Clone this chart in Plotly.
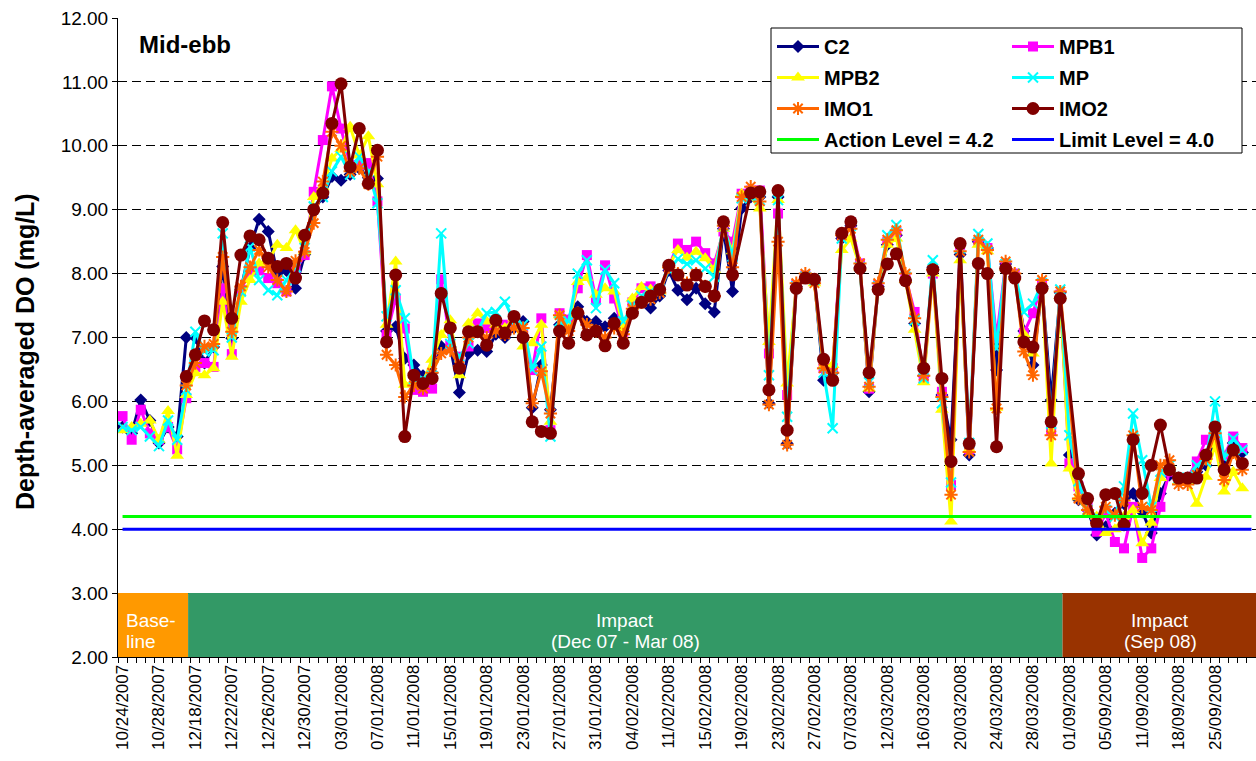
import plotly.graph_objects as go

FONT = "Arial, Liberation Sans, sans-serif"

dates = [
    "10/24/2007", "10/25/2007", "10/26/2007", "10/27/2007", "10/28/2007", "10/29/2007", "10/30/2007", "10/31/2007",
    "12/18/2007", "12/19/2007", "12/20/2007", "12/21/2007", "12/22/2007", "12/23/2007", "12/24/2007", "12/25/2007",
    "12/26/2007", "12/27/2007", "12/28/2007", "12/29/2007", "12/30/2007", "12/31/2007", "01/01/2008", "02/01/2008",
    "03/01/2008", "04/01/2008", "05/01/2008", "06/01/2008", "07/01/2008", "08/01/2008", "09/01/2008", "10/01/2008",
    "11/01/2008", "12/01/2008", "13/01/2008", "14/01/2008", "15/01/2008", "16/01/2008", "17/01/2008", "18/01/2008",
    "19/01/2008", "20/01/2008", "21/01/2008", "22/01/2008", "23/01/2008", "24/01/2008", "25/01/2008", "26/01/2008",
    "27/01/2008", "28/01/2008", "29/01/2008", "30/01/2008", "31/01/2008", "01/02/2008", "02/02/2008", "03/02/2008",
    "04/02/2008", "05/02/2008", "06/02/2008", "10/02/2008", "11/02/2008", "12/02/2008", "13/02/2008", "14/02/2008",
    "15/02/2008", "16/02/2008", "17/02/2008", "18/02/2008", "19/02/2008", "20/02/2008", "21/02/2008", "22/02/2008",
    "23/02/2008", "24/02/2008", "25/02/2008", "26/02/2008", "27/02/2008", "28/02/2008", "29/02/2008", "04/03/2008",
    "07/03/2008", "08/03/2008", "10/03/2008", "11/03/2008", "12/03/2008", "13/03/2008", "14/03/2008", "15/03/2008",
    "16/03/2008", "17/03/2008", "18/03/2008", "19/03/2008", "20/03/2008", "21/03/2008", "22/03/2008", "23/03/2008",
    "24/03/2008", "25/03/2008", "26/03/2008", "27/03/2008", "28/03/2008", "29/03/2008", "30/03/2008", "31/03/2008",
    "01/09/2008", "02/09/2008", "03/09/2008", "04/09/2008", "05/09/2008", "08/09/2008", "09/09/2008", "10/09/2008",
    "11/09/2008", "12/09/2008", "15/09/2008", "16/09/2008", "18/09/2008", "19/09/2008", "22/09/2008", "24/09/2008",
    "25/09/2008", "26/09/2008", "27/09/2008", "29/09/2008", "30/09/2008",
]

# Dates that carry a visible tick label on the category axis
labelled_dates = [
    "10/24/2007", "10/28/2007", "12/18/2007", "12/22/2007", "12/26/2007", "12/30/2007", "03/01/2008",
    "07/01/2008", "11/01/2008", "15/01/2008", "19/01/2008", "23/01/2008", "27/01/2008", "31/01/2008",
    "04/02/2008", "11/02/2008", "15/02/2008", "19/02/2008", "23/02/2008", "27/02/2008", "07/03/2008",
    "12/03/2008", "16/03/2008", "20/03/2008", "24/03/2008", "28/03/2008", "01/09/2008", "05/09/2008",
    "11/09/2008", "18/09/2008", "25/09/2008",
]

N = None

c2 = [
    5.60, 5.50, 6.02, 5.70, 5.35, 5.60, 5.45, 7.00, 7.00, 6.60,
    6.85, 8.11, 6.99, 7.75, 8.40, 8.85, 8.66, 8.00, 8.05, 7.77,
    8.30, 9.00, 9.20, 9.52, 9.46, 9.55, 9.65, 9.50, 9.49, 7.10,
    7.17, 6.67, 6.57, 6.40, 6.45, 6.86, 6.85, 6.14, 6.75, 6.80,
    6.78, 7.05, 7.00, 7.15, 7.25, 5.90, 6.57, 5.87, 7.20, 7.15,
    7.48, 7.25, 7.25, 7.17, 7.30, 7.10, 7.40, 7.55, 7.46, 7.65,
    8.05, 7.74, 7.59, 7.77, 7.53, 7.40, 8.70, 7.72, 9.02, 9.20,
    9.20, 5.97, 9.20, 5.34, 7.80, 7.95, 7.90, 6.33, 6.45, 8.55,
    8.75, 8.10, 6.15, 7.80, 8.45, 8.60, 7.90, 7.22, 6.40, 8.10,
    6.10, 5.40, 8.30, 5.16, 8.50, 8.40, 6.49, 8.15, 7.95, 7.10,
    6.57, 7.80, 6.02, 7.70, 5.16, 4.46, 4.30, 3.91, 4.04, 4.25,
    4.40, 4.56, 4.27, 3.94, 4.56, 4.85, 4.80, 4.80, 4.90, 5.00,
    5.35, 5.10, 5.35, 5.20, N,
]

mpb1 = [
    5.77, 5.40, 5.87, 5.50, 5.40, 5.60, 5.25, 6.05, 6.54, 6.60,
    6.54, 7.77, 6.74, 7.74, 8.05, 8.05, 7.93, 7.85, 7.72, 8.05,
    8.29, 9.28, 10.09, 10.93, 10.27, 9.70, 9.70, 9.73, 9.13, 7.04,
    7.61, 7.14, 6.18, 6.15, 6.20, 7.91, 6.88, 6.70, 6.86, 7.22,
    7.15, 7.17, 7.20, 7.20, 7.05, 6.49, 7.30, 5.55, 7.38, 7.28,
    7.77, 8.29, 7.59, 8.13, 7.61, 7.09, 7.55, 7.77, 7.80, 7.75,
    8.10, 8.47, 8.37, 8.50, 8.32, 8.16, 8.66, 8.50, 9.25, 9.30,
    9.30, 6.75, 8.94, 6.10, 7.82, 7.97, 7.90, 6.52, 6.52, 8.60,
    8.80, 8.16, 6.20, 7.82, 8.50, 8.65, 7.95, 7.40, 6.36, 8.00,
    6.15, 4.69, 8.45, 5.25, 8.50, 8.40, 6.99, 8.15, 8.00, 7.07,
    7.38, 7.85, 5.55, 7.67, 5.03, 4.67, 4.35, 3.96, 4.25, 3.80,
    3.70, 4.35, 3.55, 3.70, 4.35, 4.90, 4.80, 4.80, 5.06, 5.40,
    5.45, 5.15, 5.45, 5.27, N,
]

mpb2 = [
    5.55, 5.60, 5.65, 5.70, 5.40, 5.85, 5.15, 6.10, 6.44, 6.41,
    6.52, 7.56, 6.70, 7.56, 7.90, 8.16, 8.20, 8.45, 8.40, 8.68,
    8.35, 9.20, 9.35, 9.80, 9.95, 10.30, 9.85, 10.15, 9.40, 7.20,
    8.19, 6.26, 6.30, 6.30, 6.65, 7.04, 7.27, 6.41, 7.22, 7.38,
    7.25, 7.20, 7.15, 7.30, 6.86, 6.91, 7.20, 5.68, 7.35, 7.20,
    7.87, 7.93, 7.67, 7.77, 7.72, 7.15, 7.61, 7.79, 7.75, 7.72,
    8.13, 8.37, 8.25, 8.34, 8.24, 8.06, 8.70, 8.35, 9.25, 9.20,
    9.02, 6.93, 9.15, 6.28, 7.80, 7.95, 7.85, 6.55, 6.57, 8.37,
    8.55, 8.10, 6.20, 7.80, 8.45, 8.55, 7.90, 7.12, 6.30, 8.00,
    5.87, 4.12, 8.21, 5.25, 8.45, 8.35, 5.90, 8.10, 7.95, 7.05,
    6.75, 7.80, 5.03, 7.65, 4.95, 4.50, 4.25, 4.20, 3.94, 4.00,
    4.20, 4.30, 3.78, 4.10, 4.80, 5.00, 4.75, 4.75, 4.40, 4.82,
    5.32, 4.59, 4.90, 4.64, N,
]

mp = [
    5.60, 5.55, 5.60, 5.45, 5.30, 5.70, 5.40, 6.18, 7.09, 6.78,
    6.80, 8.63, 7.00, 7.72, 8.42, 7.90, 7.74, 7.66, 7.90, 8.10,
    8.40, 9.05, 9.20, 9.60, 9.83, 9.55, 9.83, 9.60, 9.10, 7.33,
    7.74, 7.30, 6.35, 6.35, 6.40, 8.63, 6.90, 6.70, 6.91, 7.10,
    7.38, 7.40, 7.56, 7.25, 7.20, 6.50, 6.86, 5.45, 7.25, 7.25,
    8.00, 8.21, 7.46, 8.06, 7.85, 7.25, 7.50, 7.65, 7.72, 7.75,
    8.05, 8.23, 8.15, 8.21, 8.08, 7.95, 8.75, 8.27, 9.18, 9.20,
    9.15, 6.41, 9.15, 5.76, 7.80, 7.95, 7.90, 6.45, 5.58, 8.55,
    8.75, 8.10, 6.30, 7.80, 8.60, 8.76, 7.95, 7.27, 6.36, 8.21,
    5.97, 4.73, 8.40, 5.35, 8.62, 8.47, 6.83, 8.15, 8.00, 7.40,
    7.53, 7.85, 5.65, 7.75, 5.47, 4.75, 4.30, 4.20, 4.30, 4.20,
    4.67, 5.81, 5.08, 4.35, 4.90, 5.00, 4.80, 4.80, 5.00, 5.05,
    6.00, 5.11, 5.42, 5.24, N,
]

imo1 = [
    N, N, N, N, N, N, N, 6.25, 6.60, 6.86,
    6.90, 8.26, 7.09, 7.80, 8.10, 8.37, 8.10, 7.90, 7.72, 8.20,
    8.34, 8.79, 9.44, 10.22, 10.00, 9.60, 9.65, 9.40, 9.83, 6.73,
    6.57, 6.07, 6.25, 6.20, 6.45, 6.75, 6.80, 6.55, 7.00, 7.10,
    7.00, 7.10, 7.05, 7.15, 7.15, 5.97, 6.47, 5.81, 7.35, 7.10,
    7.38, 7.20, 7.10, 7.00, 7.15, 7.05, 7.45, 7.55, 7.60, 7.70,
    8.10, 8.00, 7.85, 8.00, 7.80, 7.65, 8.75, 8.10, 9.20, 9.36,
    9.13, 5.95, 8.50, 5.32, 7.85, 8.00, 7.85, 6.52, 6.45, 8.60,
    8.70, 8.16, 6.23, 7.85, 8.53, 8.68, 8.00, 7.30, 6.40, 8.06,
    6.07, 4.54, 8.35, 5.21, 8.53, 8.37, 5.89, 8.19, 8.00, 6.78,
    6.41, 7.90, 5.47, 7.72, N, 4.48, 4.30, 4.10, 4.35, 4.22,
    4.45, 5.47, 4.35, 4.30, 5.00, 5.08, 4.70, 4.70, 4.85, 5.10,
    5.50, 4.77, 5.20, 4.93, N,
]

imo2 = [
    N, N, N, N, N, N, N, 6.39, 6.73, 7.26,
    7.12, 8.80, 7.30, 8.29, 8.59, 8.53, 8.24, 8.11, 8.16, 7.93,
    8.60, 9.00, 9.26, 10.35, 10.97, 9.67, 10.27, 9.41, 9.93, 6.93,
    7.98, 5.45, 6.41, 6.28, 6.36, 7.69, 7.15, 6.52, 7.09, 7.09,
    6.88, 7.27, 7.07, 7.33, 7.00, 5.68, 5.53, 5.50, 7.10, 6.91,
    7.38, 7.04, 7.10, 6.87, 7.22, 6.91, 7.38, 7.55, 7.65, 7.75,
    8.13, 7.98, 7.82, 7.98, 7.80, 7.65, 8.81, 7.98, N, 9.26,
    9.28, 6.18, 9.30, 5.55, 7.77, 7.93, 7.91, 6.66, 6.33, 8.63,
    8.81, 8.08, 6.45, 7.75, 8.15, 8.31, 7.89, N, 6.52, 8.06,
    6.36, 5.06, 8.47, 5.34, 8.16, 8.00, 5.29, 8.08, 7.93, 6.93,
    6.85, 7.77, 5.68, 7.61, N, 4.87, 4.48, 4.09, 4.54, 4.56,
    4.07, 5.40, 4.56, 5.00, 5.63, 4.93, 4.80, 4.80, 4.80, 5.16,
    5.60, 4.93, 5.24, 5.03, N,
]

action_level = [4.2] * len(dates)
limit_level = [4.0] * len(dates)

tick_labels = [d if d in labelled_dates else "" for d in dates]

series = [
    ("C2", c2, "#000080", dict(symbol="diamond", size=10), "legend"),
    ("MPB1", mpb1, "#FF00FF", dict(symbol="square", size=10), "legend2"),
    ("MPB2", mpb2, "#FFFF00", dict(symbol="triangle-up", size=12), "legend"),
    ("MP", mp, "#00FFFF", dict(symbol="x-thin", size=10), "legend2"),
    ("IMO1", imo1, "#FF6600", dict(symbol="asterisk", size=11), "legend"),
    ("IMO2", imo2, "#800000", dict(symbol="circle", size=13), "legend2"),
]

fig = go.Figure()
for name, vals, col, mk, lg in series:
    marker = dict(color=col, line=dict(width=2 if mk["symbol"] in ("x-thin", "asterisk") else 0, color=col), **mk)
    fig.add_trace(go.Scatter(
        x=dates, y=vals, name="<b>" + name + "</b>", mode="lines+markers",
        line=dict(color=col, width=3), marker=marker,
        connectgaps=True, legend=lg, legendgroup=name,
    ))

fig.add_trace(go.Scatter(x=dates, y=action_level, name="<b>Action Level = 4.2</b>", mode="lines",
                         line=dict(color="#00FF00", width=3), legend="legend", legendgroup="act"))
fig.add_trace(go.Scatter(x=dates, y=limit_level, name="<b>Limit Level = 4.0</b>", mode="lines",
                         line=dict(color="#0000FF", width=3), legend="legend2", legendgroup="lim"))

L, R, T, B = 118, 0, 18, 104
W, H = 1256, 761
PW = W - L - R
PH = H - T - B


def px_x(px):
    return (px - L) / PW


def px_y(py):
    return 1 - (py - T) / PH


legend_common = dict(
    xanchor="left", yanchor="top",
    font=dict(family=FONT, size=20, color="black"),
    bgcolor="rgba(0,0,0,0)", borderwidth=0,
    traceorder="grouped", tracegroupgap=2, itemwidth=42,
)

fig.update_layout(
    width=W, height=H,
    margin=dict(l=L, r=R, t=T, b=B),
    paper_bgcolor="white", plot_bgcolor="white",
    font=dict(family=FONT, color="black"),
    showlegend=True,
    legend=dict(x=px_x(772), y=px_y(27), **legend_common),
    legend2=dict(x=px_x(1007), y=px_y(27), **legend_common),
    xaxis=dict(
        type="category", range=[-0.5, len(dates) - 0.5],
        tickmode="array", tickvals=dates, ticktext=tick_labels,
        tickson="boundaries", ticks="outside", ticklen=5, tickcolor="black",
        tickangle=-90, tickfont=dict(family=FONT, size=17, color="black"),
        showgrid=False, showline=True, linecolor="black", linewidth=1,
        zeroline=False, automargin=False,
    ),
    yaxis=dict(
        range=[2, 12], tick0=2, dtick=1, tickformat=".2f",
        tickfont=dict(family=FONT, size=19, color="black"),
        ticks="outside", ticklen=5, tickcolor="black",
        showgrid=True, gridcolor="black", gridwidth=1, griddash="9px,5px",
        showline=True, linecolor="black", linewidth=1,
        zeroline=False, automargin=False,
    ),
)

# Period bands along the bottom of the plot
bands = [
    (-0.5, 7.2, "#FF9900"),
    (7.2, 103.25, "#339966"),
    (103.25, len(dates) - 0.5, "#993300"),
]
for x0, x1, col in bands:
    fig.add_shape(type="rect", xref="x", yref="y", x0=x0, x1=x1, y0=2, y1=3,
                  fillcolor=col, line=dict(width=0), layer="above")

# Legend frame
fig.add_shape(type="rect", xref="paper", yref="paper",
              x0=px_x(771), x1=px_x(1242), y0=px_y(153), y1=px_y(28),
              fillcolor="white", line=dict(color="black", width=1), layer="above")

band_font = dict(family=FONT, size=19, color="white")
texts = [
    (px_x(124), px_y(620), "Base-", "left"),
    (px_x(124), px_y(641), "line", "left"),
    (px_x(625), px_y(620), "Impact", "center"),
    (px_x(625), px_y(641), "(Dec 07 - Mar 08)", "center"),
    (px_x(1160), px_y(620), "Impact", "center"),
    (px_x(1160), px_y(641), "(Sep 08)", "center"),
]
for x, y, t, anc in texts:
    fig.add_annotation(xref="paper", yref="paper", x=x, y=y, text=t, showarrow=False,
                       xanchor=anc, yanchor="middle", font=band_font)

fig.add_annotation(xref="paper", yref="paper", x=px_x(137), y=px_y(45), text="<b>Mid-ebb</b>",
                   showarrow=False, xanchor="left", yanchor="middle",
                   font=dict(family=FONT, size=24, color="black"))

fig.add_annotation(xref="paper", yref="paper", x=px_x(25), y=px_y(352),
                   text="<b>Depth-averaged DO (mg/L)</b>", textangle=-90,
                   showarrow=False, xanchor="center", yanchor="middle",
                   font=dict(family=FONT, size=25, color="black"))

fig.write_html(
    "out.html",
    config={"displayModeBar": False},
    post_script="document.body.style.margin='0';document.body.style.overflow='hidden';",
)
